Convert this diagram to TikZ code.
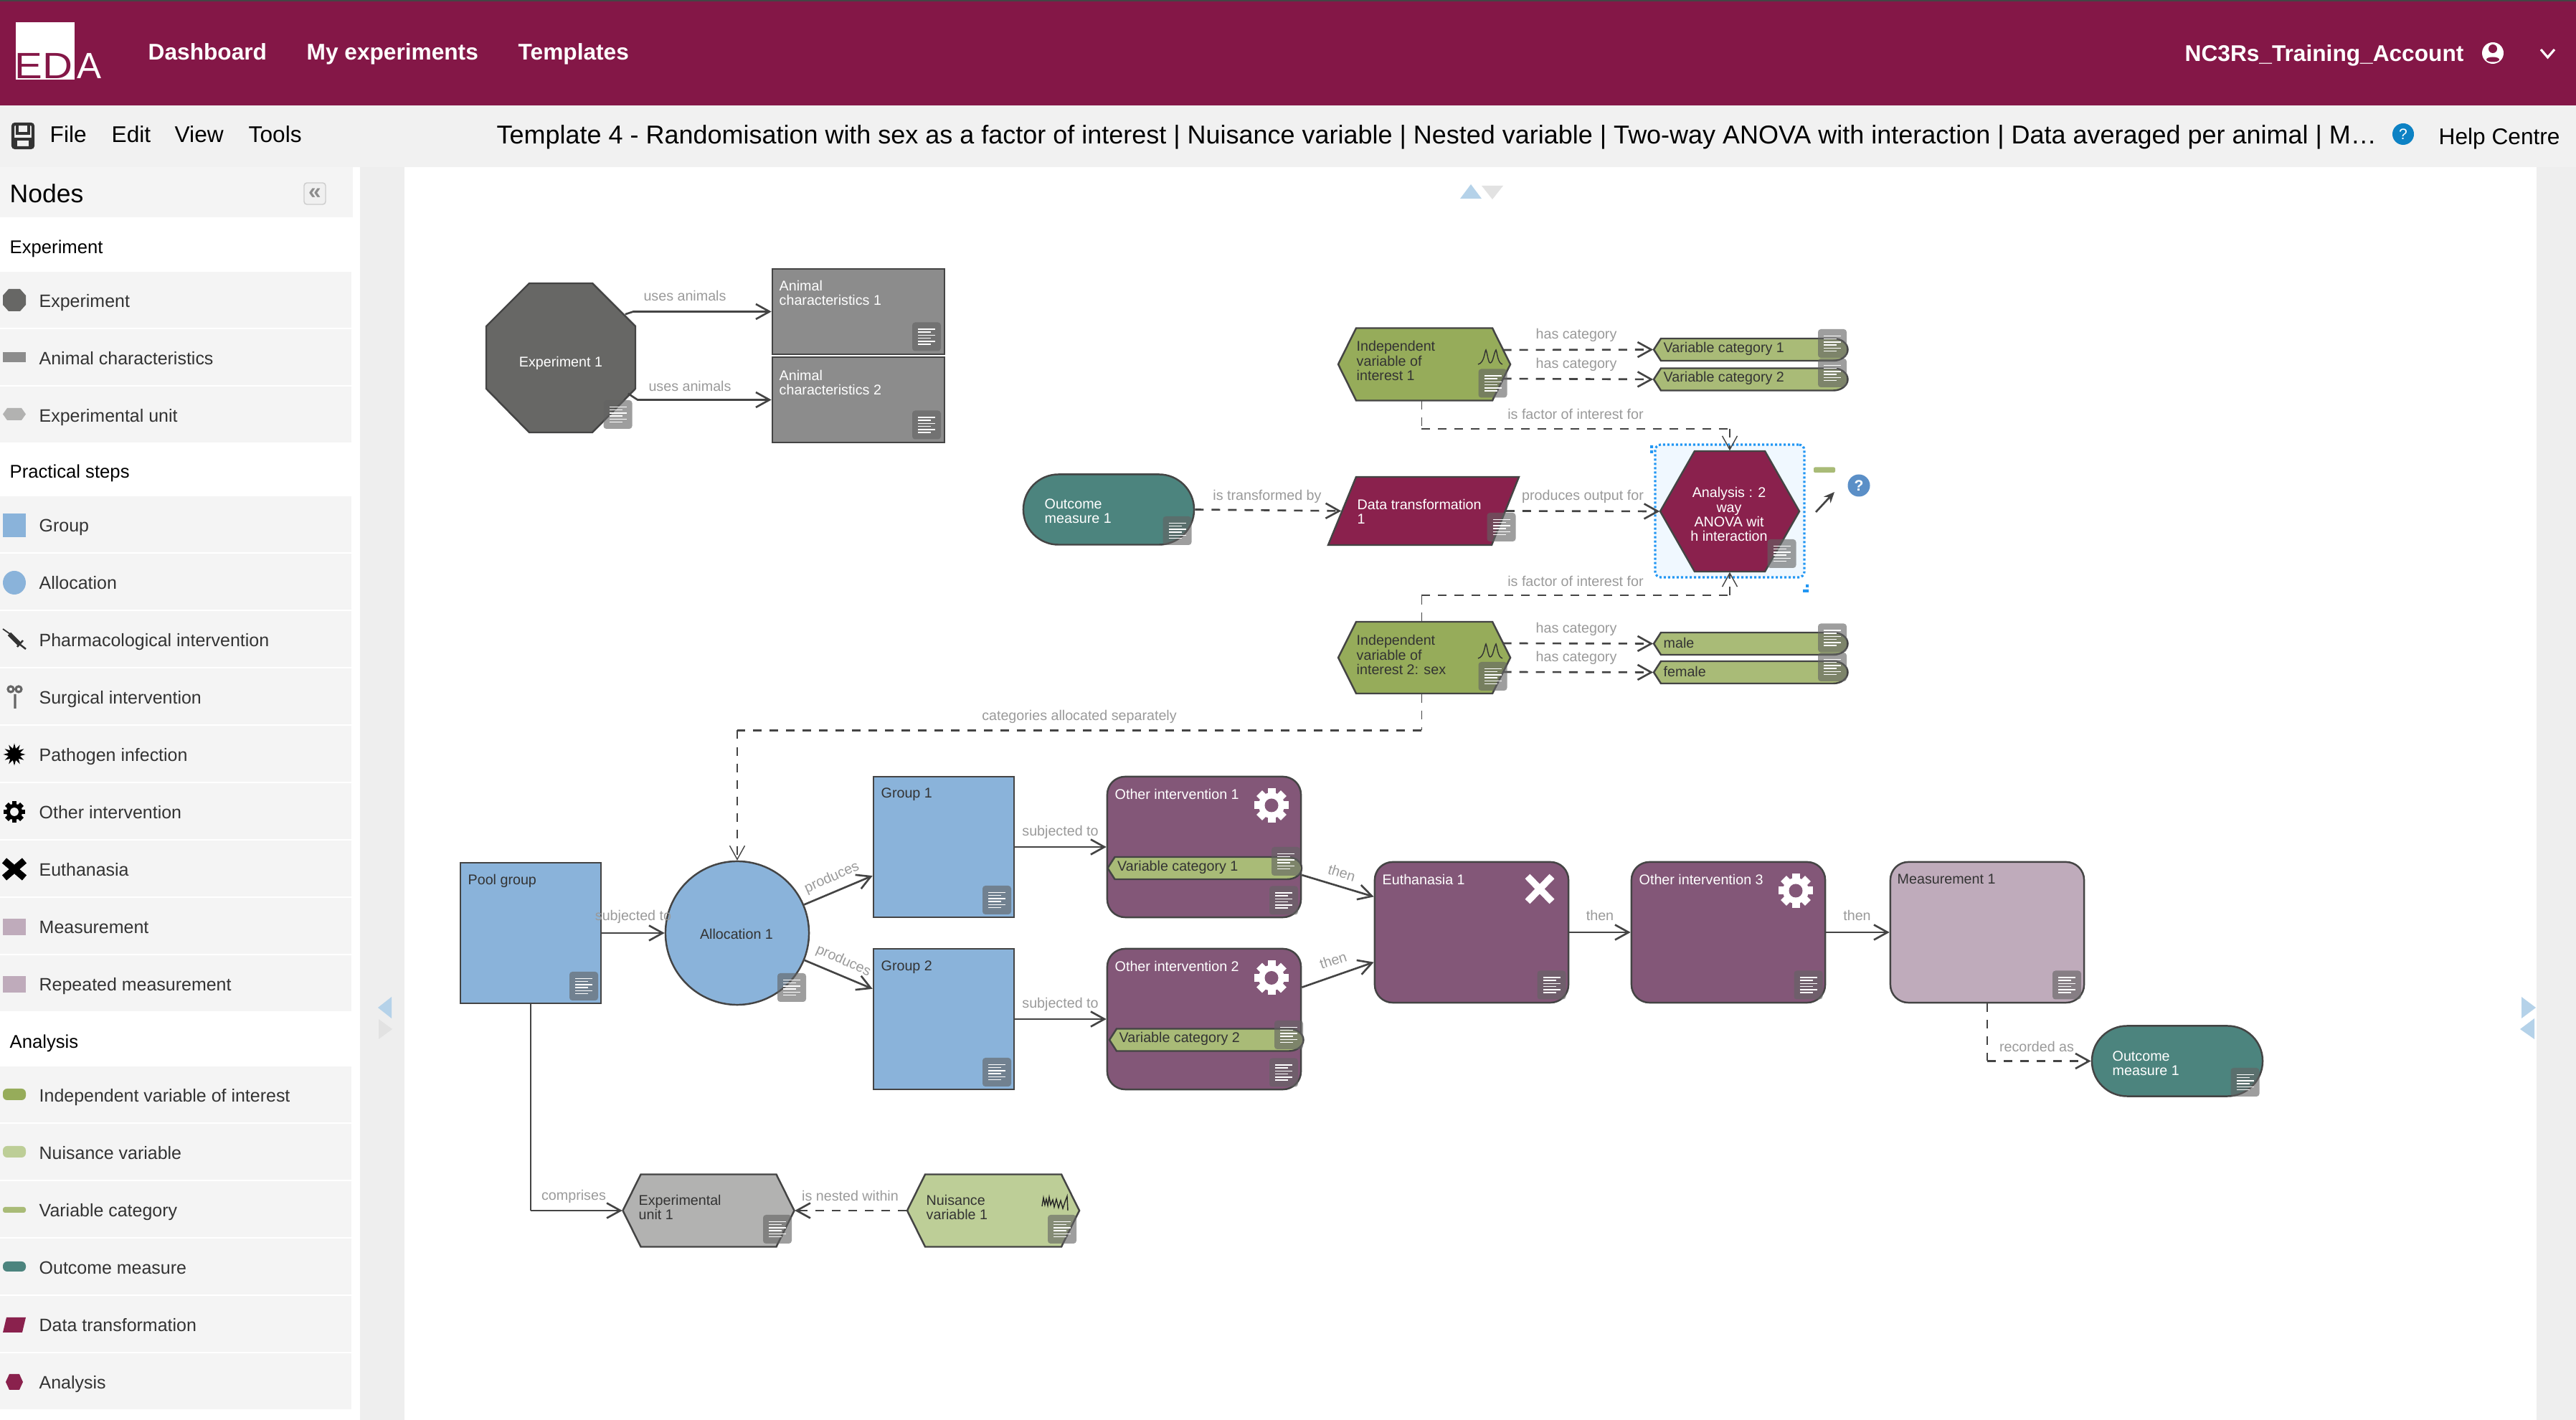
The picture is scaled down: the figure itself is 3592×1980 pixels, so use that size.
\documentclass[tikz,border=0pt]{standalone}
\usepackage{fontspec}
\setmainfont{Liberation Sans}
\usetikzlibrary{arrows.meta, positioning, calc}
\usetikzlibrary{shapes.misc, shapes.geometric}

\definecolor{brandred}{HTML}{841747}
\definecolor{barbg}{HTML}{F1F1F1}
\definecolor{rowbg}{HTML}{F4F4F4}
\definecolor{gutter}{HTML}{EEEEEE}
\definecolor{edgegray}{HTML}{444444}
\definecolor{labgray}{HTML}{9A9A9A}
\definecolor{txtdark}{HTML}{333333}
\definecolor{expc}{HTML}{676765}
\definecolor{animc}{HTML}{8C8C8C}
\definecolor{unitc}{HTML}{B2B2B1}
\definecolor{groupc}{HTML}{8AB3DA}
\definecolor{stepc}{HTML}{835778}
\definecolor{measc}{HTML}{BFABBB}
\definecolor{ivc}{HTML}{96AC5A}
\definecolor{nuisc}{HTML}{BDCE97}
\definecolor{catc}{HTML}{A9BB77}
\definecolor{outc}{HTML}{4C847E}
\definecolor{anlc}{HTML}{8A214D}
\definecolor{selblue}{HTML}{2196F3}
\definecolor{seltint}{HTML}{F0F8FF}
\definecolor{arrowblue}{HTML}{B5D2E9}
\definecolor{arrowgray}{HTML}{E2E2E2}
\definecolor{helpblue}{HTML}{0D82C4}
\definecolor{qblue}{HTML}{5B8FC7}

\tikzset{
  % connectors
  flow/.style={draw=edgegray, line width=.75pt, -{Straight Barb[length=1.9mm,width=2.1mm]}},
  dflow/.style={flow, dash pattern=on 1.2mm off 1.1mm},
  dline/.style={draw=edgegray, line width=.75pt, dash pattern=on 1.2mm off 1.1mm},
  dthin/.style={dline, line width=.4pt},
  dthintip/.style={dflow, line width=.4pt},
  sthin/.style={draw=edgegray, line width=.4pt},
  % texts
  lab/.style={inner sep=0pt, text=labgray, font=\fontsize{5.6pt}{5.7pt}\selectfont},
  whitetxt/.style={inner sep=0pt, anchor=west, align=left, text=white, font=\fontsize{5.6pt}{5.7pt}\selectfont},
  darktxt/.style={whitetxt, text=txtdark},
  sidetxt/.style={inner sep=0pt, anchor=west, text=txtdark, text height=5pt, text depth=0pt, font=\fontsize{7.1pt}{8pt}\selectfont},
  headtxt/.style={sidetxt, text=black, font=\fontsize{7.3pt}{8pt}\selectfont},
  bartxt/.style={inner sep=0pt, anchor=west, text=black, text height=6.4pt, text depth=0pt, font=\fontsize{9pt}{10pt}\selectfont},
  menutxt/.style={bartxt, text=white, font=\fontsize{9pt}{10pt}\selectfont\bfseries},
  % shapes
  shp/.style={draw=edgegray, line width=.7pt, inner sep=0pt, minimum width=#1},
  polyline/.style={draw=edgegray, line width=.7pt},
  hook/.style={inner sep=0pt},
  stepbox/.style={shp=2.7cm, minimum height=1.96cm, rounded corners=2.5mm, fill=stepc},
  groupbox/.style={shp=1.96cm, minimum height=1.96cm, fill=groupc},
  animbox/.style={shp=2.4cm, minimum height=1.185cm, fill=animc},
  outbox/.style={shp=2.38cm, minimum height=.98cm, rounded rectangle, fill=outc},
  catshape/.style={polyline, fill=catc},
  % little sheet at the corner of a node
  docicon/.pic={
    \fill[black!61, opacity=.615, rounded corners=.4mm] (-20,-20) rectangle (20,20);
    \foreach \l/\w in {-10.5/24,-6.3/18,-2.1/24,2.1/18,6.3/24,10.5/18} {
      \draw[white, line width=.42pt] (-12,\l) -- ++(\w,0);
    }
  },
  peakicon/.pic={
    \draw[txtdark, line width=.4pt] (-17,10) .. controls (-8,8) and (-8,-8) .. (-6,-10)
      .. controls (-4,-6) and (-3,8) .. (0,8) .. controls (4,8) and (5,-6) .. (8,-10)
      .. controls (10,-6) and (10,8) .. (17,10);
  },
  pics/gearicon/.style 2 args={code={
    \fill[#1] (0,0) circle (18);
    \foreach \a in {0,45,...,315} {
      \fill[#1, rotate=\a] (-5.5,15) rectangle (5.5,24);
    }
    \fill[#2] (0,0) circle (9.5);
  }},
}

\begin{document}
\begin{tikzpicture}[x=0.01cm,y=-0.01cm]
\useasboundingbox (0,0) rectangle (3592,1980);

% ------------------------
% Window frame
% ------------------------
\fill[white] (0,0) rectangle (3592,1980);
\fill[gutter] (502,233) rectangle (3592,1980);
\fill[white] (564,233) rectangle (3537,1980);
\fill[brandred] (0,0) rectangle (3592,147);
\fill[edgegray] (0,0) rectangle (3592,2);
\fill[barbg] (0,147) rectangle (3592,233);

% Logo
\fill[white] (22,31) rectangle (104,111);
\node[inner sep=0pt, anchor=base west, xscale=1.14, text=brandred, font=\fontsize{14.5pt}{15pt}\selectfont] (logoA) at (20,110) {ED};
\node[inner sep=0pt, anchor=base west, text=white, font=\fontsize{14.5pt}{15pt}\selectfont] (logoB) at (107,110) {A};

% Menus
\node[menutxt] (menuA) at (206,72) {Dashboard};
\node[menutxt] (menuB) at (427,72) {My experiments};
\node[menutxt] (menuC) at (722,72) {Templates};
\node[menutxt] (acct) at (3046,74) {NC3Rs\_Training\_Account};

% Account icon
\fill[white] (3476,74) circle (15);
\fill[brandred] (3476,68) circle (6);
\fill[brandred] (3476,83) ellipse (9 and 3.5);
\draw[white, line width=.9pt] (3543,69) -- (3552.5,80) -- (3562,69);

% Toolbar
\draw[txtdark, line width=1.2pt, rounded corners=.3mm] (18,173) rectangle (46,206);
\draw[txtdark, line width=1pt] (24,173) rectangle (40,186);
\draw[txtdark, line width=1pt] (22,194) rectangle (42,206);
\node[bartxt] (barA) at (69,187) {File};
\node[bartxt] (barB) at (155,187) {Edit};
\node[bartxt] (barC) at (243,187) {View};
\node[bartxt] (barD) at (346,187) {Tools};
\node[bartxt, text height=7.3pt, font=\fontsize{10.23pt}{11pt}\selectfont] (title) at (692,188)
  {Template 4 - Randomisation with sex as a factor of interest | Nuisance variable | Nested variable | Two-way ANOVA with interaction | Data averaged per animal | M…};
\node[circle, fill=helpblue, inner sep=0pt, minimum size=.3cm, text=white, font=\fontsize{6pt}{6pt}\selectfont] (helpDot) at (3351,187) {?};
\node[bartxt] (help) at (3400,190) {Help Centre};

% ------------------------
% Left panel
% ------------------------
\fill[rowbg] (0,233) rectangle (492,303);
\node[sidetxt, text=black, text height=7pt, font=\fontsize{10.1pt}{11pt}\selectfont] (nodesHead) at (13,270) {Nodes};
\node[draw=black!20, fill=black!6, rounded corners=.4mm, inner sep=0pt, minimum width=.3cm, minimum height=.3cm,
  text=black!45, font=\fontsize{9pt}{9pt}\selectfont\bfseries] (fold) at (439,270) {«};

\node[headtxt] (secA) at (13,345) {Experiment};
\node[headtxt] (secB) at (13,658) {Practical steps};
\node[headtxt] (secC) at (13,1453) {Analysis};

\foreach \y/\name in {418/Experiment, 498/Animal characteristics, 578/Experimental unit,
  731/Group, 811/Allocation, 891/Pharmacological intervention, 971/Surgical intervention,
  1051/Pathogen infection, 1131/Other intervention, 1211/Euthanasia, 1291/Measurement, 1371/Repeated measurement,
  1526/Independent variable of interest, 1606/Nuisance variable, 1686/Variable category,
  1766/Outcome measure, 1846/Data transformation, 1926/Analysis} {
  \fill[rowbg] (0,\y-39) rectangle (490,\y+39);
  \node[sidetxt] (side\y) at (54,\y+2) {\name};
}

% Palette icons
\fill[expc] (12,403) -- (28,403) -- (36,412) -- (36,425) -- (28,434) -- (12,434) -- (4,425) -- (4,412) -- cycle;
\fill[animc] (4,491) rectangle (36,505);
\fill[unitc] (10,569) -- (30,569) -- (36,577.5) -- (30,586) -- (10,586) -- (4,577.5) -- cycle;
\fill[groupc] (4,716) rectangle (36,749);
\fill[groupc] (20,812.5) ellipse (16 and 16.5);
\draw[txtdark, line width=.5pt] (4,877) -- (14,884);
\draw[txtdark, line width=1.8pt] (13,884) -- (27,898);
\draw[txtdark, line width=.7pt] (27,898) -- (36,905) (24,902) -- (32,893);
\draw[black!60, line width=.9pt] (21,968) -- (21,988) (15,961) circle (4) (26,961) circle (4);
\node[star, star points=12, star point ratio=1.9, fill=black, inner sep=0pt, minimum size=.31cm] (bugIcon) at (20,1052) {};
\pic[scale=.62] at (20,1132) {gearicon={black}{rowbg}};
\draw[black, line width=.95mm] (6,1200) -- (34,1224) (34,1200) -- (6,1224);
\fill[measc] (4,1281) rectangle (36,1304);
\fill[measc] (4,1361) rectangle (36,1384);
\fill[ivc, rounded corners=.6mm] (4,1518) rectangle (36,1534);
\fill[nuisc, rounded corners=.6mm] (4,1598) rectangle (36,1614);
\fill[catc, rounded corners=.3mm] (4,1683) rectangle (36,1691);
\fill[outc, rounded corners=.6mm] (4,1759) rectangle (36,1773);
\fill[anlc] (9,1837) -- (36,1837) -- (31,1858) -- (4,1858) -- cycle;
\fill[anlc] (13,1916) -- (27,1916) -- (32,1927) -- (27,1938) -- (13,1938) -- (8,1927) -- cycle;

% Panel arrows
\fill[arrowblue] (2036,277) -- (2051,257) -- (2066,277) -- cycle;
\fill[arrowgray] (2066,259) -- (2096,259) -- (2081,278) -- cycle;
\fill[arrowblue] (546,1390) -- (527,1405) -- (546,1420) -- cycle;
\fill[arrowgray] (528,1421) -- (547,1435) -- (528,1449) -- cycle;
\fill[arrowblue] (3516,1390) -- (3536,1405) -- (3516,1420) -- cycle;
\fill[arrowblue] (3534,1420) -- (3514,1435) -- (3534,1449) -- cycle;

% ------------------------
% Experiment
% ------------------------
\draw[polyline, fill=expc] (738,395) -- (826,395) -- (886,455) -- (886,542) -- (826,603) -- (738,603) -- (678,542) -- (678,455) -- cycle;
\node[hook, minimum width=2.08cm, minimum height=2.08cm] (exper) at (782,499) {};
\node[whitetxt, anchor=center] (experTxt) at (782,506) {Experiment 1};
\node[animbox] (animA) at (1197,434.5) {};
\node[animbox] (animB) at (1197,557.5) {};
\node[whitetxt] (animAtxt) at (1086,408) {Animal\\characteristics 1};
\node[whitetxt] (animBtxt) at (1086,533) {Animal\\characteristics 2};

% ------------------------
% Analysis
% ------------------------
\node[inner sep=0pt, minimum width=2.08cm, minimum height=1.85cm, draw=selblue, fill=seltint, line width=.9pt,
  dash pattern=on .3mm off .3mm, rounded corners=.8mm] (anlSel) at (2412,712.5) {};
\fill[selblue] (2301,621) rectangle (2305,625) (2301,628) rectangle (2305,632);
\fill[selblue] (2518,815) rectangle (2522,819) (2514,822) rectangle (2522,826);

% Pointed shapes
\foreach \nm/\cx/\cy/\w/\h/\xs/\col in {ivA/1986/508/240/101/25/ivc, ivB/1986/917/240/100/25/ivc, anl/2412/713/194/168/48/anlc,
  unit/988/1688/239/101/25/unitc, nuis/1385/1688/240/101/25/nuisc} {
  \draw[polyline, fill=\col] (\cx-\w/2,\cy) -- (\cx-\w/2+\xs,\cy-\h/2) -- (\cx+\w/2-\xs,\cy-\h/2) -- (\cx+\w/2,\cy)
    -- (\cx+\w/2-\xs,\cy+\h/2) -- (\cx-\w/2+\xs,\cy+\h/2) -- cycle;
  \node[hook, minimum width=\w*0.01cm, minimum height=\h*0.01cm] (\nm) at (\cx,\cy) {};
}

\node[darktxt] (ivAtxt) at (1891,503) {Independent\\variable of\\interest 1};
\node[darktxt] (ivBtxt) at (1891,913) {Independent\\variable of\\interest 2: sex};
\pic at (2078,498) {peakicon};
\pic at (2078,908) {peakicon};

\node[outbox] (outA) at (1546,710.5) {};
\node[whitetxt] (outAtxt) at (1456,712.5) {Outcome\\measure 1};
\draw[polyline, fill=anlc] (1891,665) -- (2118,665) -- (2080,760) -- (1852,760) -- cycle;
\node[hook, minimum width=2.28cm, minimum height=.95cm] (dataTx) at (1985,712.5) {};
\node[whitetxt] (dataTxt) at (1892,713) {Data transformation\\1};
\node[whitetxt, anchor=center, align=center] (anlTxt) at (2411,717) {Analysis : 2\\way\\ANOVA wit\\h interaction};

% ------------------------
% Practical steps
% ------------------------
\node[groupbox] (pool) at (740,1301) {};
\node[darktxt] (poolTxt) at (652,1228) {Pool group};
\node[shp=2cm, minimum height=2cm, ellipse, fill=groupc] (alloc) at (1028,1301) {};
\node[darktxt, anchor=center] (allocTxt) at (1027,1302) {Allocation 1};
\node[groupbox] (grpA) at (1316,1181) {};
\node[groupbox] (grpB) at (1316,1421) {};
\node[darktxt] (grpAtxt) at (1228,1108) {Group 1};
\node[darktxt] (grpBtxt) at (1228,1349) {Group 2};

\node[stepbox] (othA) at (1679,1181) {};
\node[stepbox] (othB) at (1679,1421) {};
\node[whitetxt] (othAtxt) at (1554,1107) {Other intervention 1};
\node[whitetxt] (othBtxt) at (1554,1347) {Other intervention 2};
\pic at (1773,1123) {gearicon={white}{stepc}};
\pic at (1773,1363.5) {gearicon={white}{stepc}};

\node[stepbox] (euth) at (2052,1300) {};
\node[whitetxt] (euthTxt) at (1927,1226) {Euthanasia 1};
\draw[white, line width=.95mm] (2130,1222) -- (2164,1257) (2164,1222) -- (2130,1257);
\node[stepbox] (othC) at (2410,1300) {};
\node[whitetxt] (othCtxt) at (2285,1226) {Other intervention 3};
\pic at (2504,1242) {gearicon={white}{stepc}};
\node[stepbox, fill=measc] (meas) at (2771,1300) {};
\node[darktxt] (measTxt) at (2645,1226) {Measurement 1};
\node[outbox] (outB) at (3036,1479.5) {};
\node[whitetxt] (outBtxt) at (2945,1483) {Outcome\\measure 1};

% Experimental unit and nuisance variable
\node[darktxt] (unitTxt) at (890,1683) {Experimental\\unit 1};
\node[darktxt] (nuisTxt) at (1291,1683) {Nuisance\\variable 1};
\draw[black!85, line width=.4pt] (1453,1682) -- (1455,1670) -- (1457,1680) -- (1459,1672) -- (1461,1681) -- (1463,1669)
  -- (1465,1680) -- (1468,1673) -- (1470,1683) -- (1473,1672) -- (1476,1684) -- (1479,1674) -- (1482,1685) -- (1485,1676) -- (1488,1668) -- (1489,1688);

% Categories
\foreach \nm/\cx/\cy/\txt in {catA/2441.5/487.5/Variable category 1, catB/2441.5/529/Variable category 2,
  catMale/2441.5/897.5/male, catFemale/2441.5/937.5/female, catIa/1680/1210.5/Variable category 1, catIb/1682.5/1450/Variable category 2} {
  \draw[catshape] (\cx-135.5,\cy) -- (\cx-125.5,\cy-15.5) -- (\cx+115,\cy-15.5)
    arc (-90:90:20 and 15.5) -- (\cx-125.5,\cy+15.5) -- cycle;
  \node[hook, minimum width=2.71cm, minimum height=.31cm] (\nm) at (\cx,\cy) {};
  \node[darktxt] (\nm Txt) at (\cx-122.5,\cy-1.5) {\txt};
}

% Connector handle next to the selected node
\fill[catc, rounded corners=.2mm] (2529,651.5) rectangle (2559,659);
\coordinate (linkFrom) at (2532,714);
\coordinate (linkTo) at (2558,686);
\draw[edgegray, line width=.75pt, -{Stealth[length=1.5mm,width=1.3mm]}] (linkFrom) -- (linkTo);
\node[circle, fill=qblue, inner sep=0pt, minimum size=.31cm, text=white, font=\fontsize{6pt}{6pt}\selectfont\bfseries] (anlHelp) at (2592,677) {?};

% ------------------------
% Connectors
% ------------------------
\coordinate (bendA) at (883,434.5);
\coordinate (bendB) at (889,557.5);
\draw[flow] ($(exper.north east)+(-15,44)$) -- (bendA) -- (animA.west);
\draw[flow] ($(exper.south east)+(-11,-55)$) -- (bendB) -- (animB.west);

\draw[dflow] ($(ivA.east)+(-11,-20)$) -- (catA.west);
\draw[dflow] ($(ivA.east)+(-11,20)$) -- (catB.west);
\draw[dflow] ($(ivB.east)+(-11,-20)$) -- (catMale.west);
\draw[dflow] ($(ivB.east)+(-11,20)$) -- (catFemale.west);
\draw[dflow] (outA.east) -- (dataTx.west);
\draw[dflow] (dataTx.east) -- (anl.west);

% factor links: thin uprights, heavier runs
\coordinate (bendC) at (2412,598);
\coordinate (bendD) at (2412,830);
\coordinate (bendE) at (1028,1018.5);
\draw[dthin] (ivA.266) -- (ivA.266 |- bendC);
\draw[dline] (ivA.266 |- bendC) -- (bendC);
\draw[dthintip] (bendC) -- (anl.north);
\draw[dthin] (ivB.94) -- (ivB.94 |- bendD);
\draw[dline] (ivB.94 |- bendD) -- (bendD);
\draw[dthintip] (bendD) -- (anl.south);
\draw[dthin] (ivB.266) -- (ivB.266 |- bendE);
\draw[dline] (ivB.266 |- bendE) -- (bendE);
\draw[dthintip] (bendE) -- (alloc.north);

\draw[flow] (pool.east) -- (alloc.west);
\draw[flow] (alloc.23.5) -- (grpA.202);
\draw[flow] (alloc.-22) -- (grpB.157);
\draw[flow] (grpA.east) -- (othA.west);
\draw[flow] (grpB.east) -- (othB.west);
\draw[flow] (othA.-16.5) -- (euth.160.8);
\draw[flow] (othB.18.4) -- (euth.197.3);
\draw[flow] (euth.east) -- (othC.west);
\draw[flow] (othC.east) -- (meas.west);
\draw[dthin] (meas.south) -- (meas.south |- outB.west);
\draw[dflow] (meas.south |- outB.west) -- (outB.west);
\draw[sthin] (pool.south) -- (pool.south |- unit.west);
\draw[flow] (pool.south |- unit.west) -- (unit.west);
\draw[dflow] (nuis.west) -- (unit.east);

% ------------------------
% Connector labels
% ------------------------
\node[lab] (lbA) at (955,412) {uses animals};
\node[lab] (lbB) at (962,538) {uses animals};
\node[lab] (lbC) at (2198,467) {has category};
\node[lab] (lbD) at (2198,508) {has category};
\node[lab] (lbE) at (2198,877) {has category};
\node[lab] (lbF) at (2198,917) {has category};
\node[lab] (lbG) at (2197,577) {is factor of interest for};
\node[lab] (lbH) at (2197,810) {is factor of interest for};
\node[lab] (lbI) at (1767,692.5) {is transformed by};
\node[lab] (lbJ) at (2207,692.5) {produces output for};
\node[lab] (lbK) at (1505,999) {categories allocated separately};
\node[lab] (lbL) at (883,1278.5) {subjected to};
\node[lab, rotate=24] (lbM) at (1160,1224) {produces};
\node[lab, rotate=-24] (lbN) at (1176,1340) {produces};
\node[lab] (lbO) at (1478.5,1160) {subjected to};
\node[lab] (lbP) at (1478.5,1400) {subjected to};
\node[lab, rotate=-17] (lbQ) at (1871,1217) {then};
\node[lab, rotate=18] (lbR) at (1859,1339) {then};
\node[lab] (lbS) at (2231,1276) {then};
\node[lab] (lbT) at (2589.5,1276) {then};
\node[lab] (lbU) at (2840,1459) {recorded as};
\node[lab] (lbV) at (800,1668) {comprises};
\node[lab] (lbW) at (1185.5,1667) {is nested within};

% ------------------------
% Sheets on the nodes
% ------------------------
\foreach \x/\y in {861.5/578, 1292/469.5, 1292/592.5, 2081.5/534.5, 2555/479, 2555/520, 1641.5/740, 2093.5/735, 2484.5/772,
  2081.5/943, 2555/889.5, 2555/930, 814/1375, 1104/1377, 1390/1255, 1390/1495, 1793/1201, 1790/1255.5, 1797/1443, 1790/1495.5,
  2163.5/1373.5, 2521.5/1373.5, 2882/1373.5, 3130.5/1509, 1084/1714, 1481/1714} {
  \pic at (\x,\y) {docicon};
}

\end{tikzpicture}
\end{document}
